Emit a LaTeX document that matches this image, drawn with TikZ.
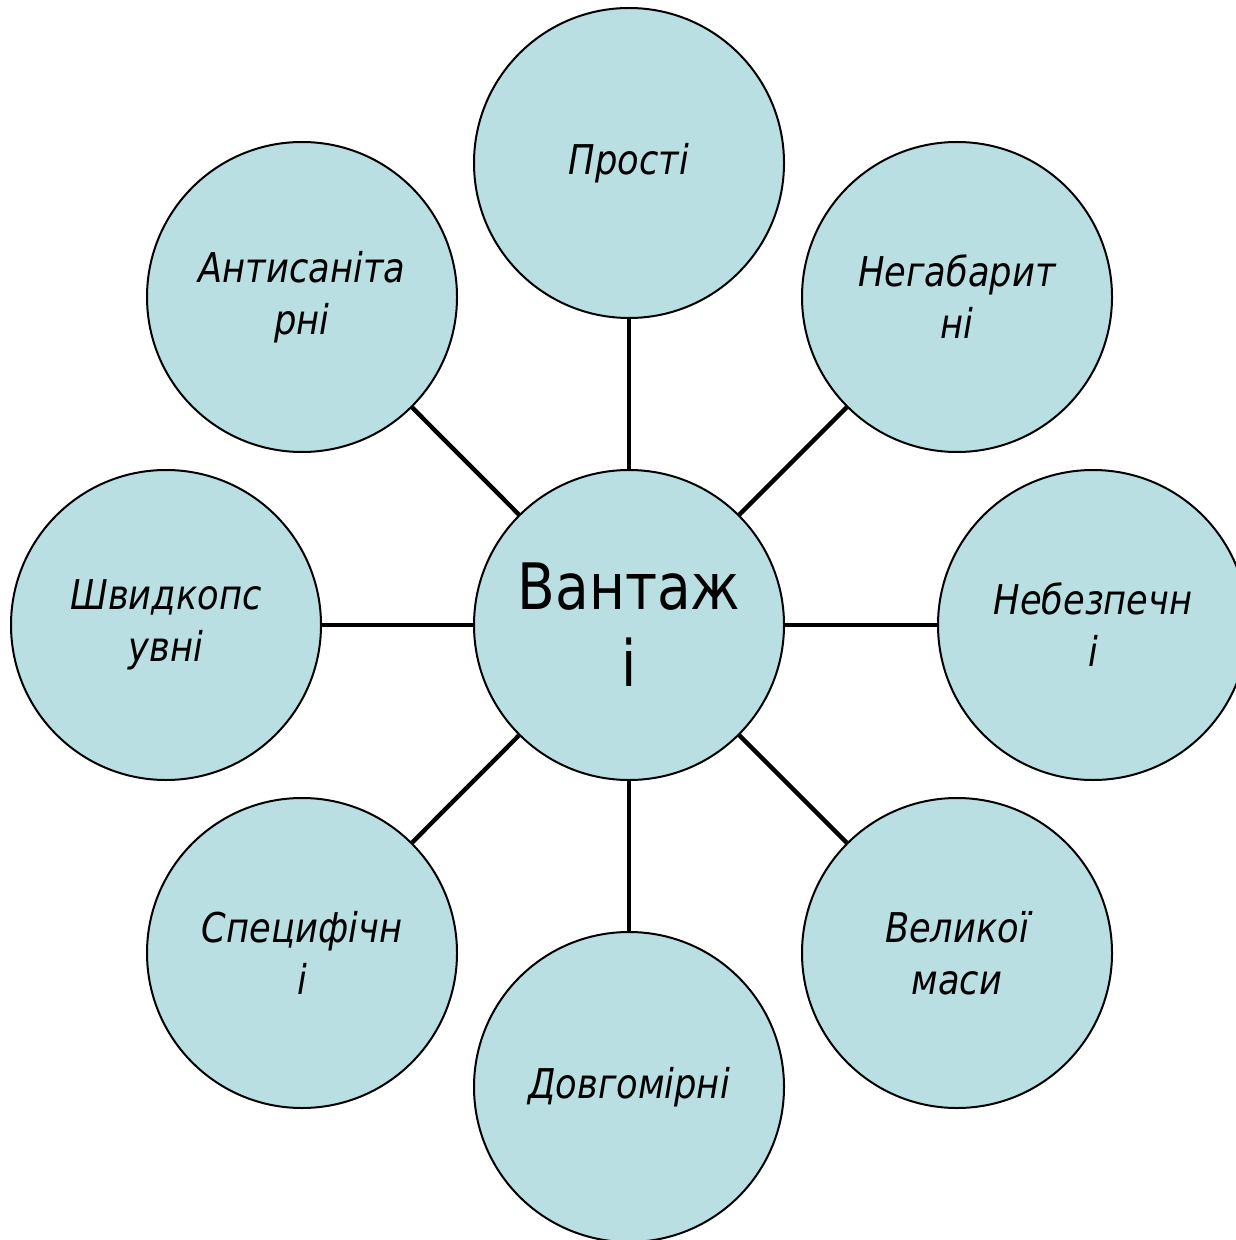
\documentclass[tikz,border=0pt]{standalone}
\usepackage{fontspec}
\setmainfont{DejaVu Sans}[FakeStretch=0.86]
\definecolor{bubble}{RGB}{185,223,227}
\tikzset{
  bub/.style={circle, draw=black, line width=1pt, fill=bubble, minimum size=155pt, inner sep=0pt, align=center},
  outer/.style={bub, font=\itshape\fontsize{20.5}{26}\selectfont},
  hub/.style={bub, font=\fontsize{32}{38.5}\selectfont},
  conn/.style={draw=black, line width=2.2pt}
}
\begin{document}
\begin{tikzpicture}[x=0.5pt,y=-0.5pt]
\useasboundingbox (0,0) rectangle (1235,1240);
\node[hub] (c) at (629,625) {Вантаж\\і};
\node[outer] (n1) at (629,163) {Прості};
\node[outer] (n2) at (957,297) {Негабарит\\ні};
\node[outer] (n3) at (1093,625) {Небезпечн\\і};
\node[outer] (n4) at (957,953) {Великої\\маси};
\node[outer] (n5) at (629,1087) {Довгомірні};
\node[outer] (n6) at (302,953) {Специфічн\\і};
\node[outer] (n7) at (166,625) {Швидкопс\\увні};
\node[outer] (n8) at (302,297) {Антисаніта\\рні};
\foreach \n in {n1,n2,n3,n4,n5,n6,n7,n8}
  \draw[conn] (c) -- (\n);
\end{tikzpicture}
\end{document}
